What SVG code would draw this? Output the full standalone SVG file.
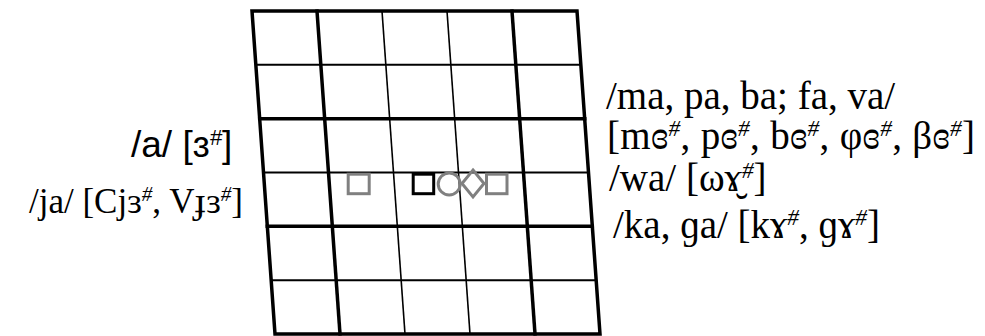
<svg xmlns="http://www.w3.org/2000/svg" width="985" height="336" viewBox="0 0 985 336">
<style>
.thick{stroke:#000;stroke-width:3.5;fill:none;stroke-linecap:square}
.thinh{stroke:#000;stroke-width:2;fill:none}
.thinv{stroke:#000;stroke-width:1.6;fill:none}
.mk{fill:none;stroke-width:3}
.gray{stroke:#808080}
.blk{stroke:#000}
.serif{font-family:"Liberation Serif","DejaVu Serif",serif;fill:#000}
.sans{font-family:"Liberation Sans","DejaVu Sans",sans-serif;fill:#000}
.sup{font-size:60%;font-style:italic}
</style>
<rect width="985" height="336" fill="#fff"/>
<g id="grid">
  <line class="thinv" x1="382" y1="11" x2="405" y2="334"/>
  <line class="thinv" x1="447" y1="11" x2="470" y2="334"/>
  <line class="thinh" x1="255.8" y1="64.8" x2="580.8" y2="64.8"/>
  <line class="thinh" x1="263.5" y1="172.5" x2="588.5" y2="172.5"/>
  <line class="thinh" x1="271.2" y1="280.2" x2="596.2" y2="280.2"/>
  <line class="thick" x1="317" y1="11" x2="340" y2="334"/>
  <line class="thick" x1="512" y1="11" x2="535" y2="334"/>
  <line class="thick" x1="259.7" y1="118.7" x2="584.7" y2="118.7"/>
  <line class="thick" x1="267.3" y1="226.3" x2="592.3" y2="226.3"/>
  <polygon class="thick" points="252,11 577,11 600,334 275,334" style="stroke-linejoin:miter"/>
</g>
<g id="markers">
  <rect id="sq-gray-left" class="mk gray" x="348.2" y="174.2" width="21" height="19.5"/>
  <rect id="sq-black" class="mk blk" x="413.2" y="174.2" width="20.5" height="19.5"/>
  <circle id="circle" class="mk gray" cx="449.2" cy="184" r="11"/>
  <polygon id="diamond" class="mk gray" points="473,170 484,183.5 473,197 462,183.5"/>
  <rect id="sq-gray-right" class="mk gray" x="486.5" y="174.2" width="20.5" height="19.5"/>
</g>
<g id="connectors"/>
<g id="labels-left">
  <text id="lbl-a" class="sans" x="131" y="157" font-size="37">/a/ [ɜ<tspan class="sup" baseline-shift="super">#</tspan>]</text>
  <text id="lbl-ja" class="serif" x="243" y="213" font-size="35" text-anchor="end">/ja/ [Cjɜ<tspan class="sup" baseline-shift="super">#</tspan>, Vɟɜ<tspan class="sup" baseline-shift="super">#</tspan>]</text>
</g>
<g id="labels-right">
  <text id="lbl-ma" class="serif" x="606" y="109" font-size="39">/ma, pa, ba; fa, va/</text>
  <text id="lbl-mo" class="serif" x="607" y="149" font-size="39" textLength="368" lengthAdjust="spacing">[mɞ<tspan class="sup" baseline-shift="super">#</tspan>, pɞ<tspan class="sup" baseline-shift="super">#</tspan>, bɞ<tspan class="sup" baseline-shift="super">#</tspan>, φɞ<tspan class="sup" baseline-shift="super">#</tspan>, βɞ<tspan class="sup" baseline-shift="super">#</tspan>]</text>
  <text id="lbl-wa" class="serif" x="609" y="191" font-size="39">/wa/ [ωɤ̮<tspan class="sup" baseline-shift="super">#</tspan>]</text>
  <text id="lbl-ka" class="serif" x="613" y="238" font-size="39">/ka, ɡa/ [kɤ<tspan class="sup" baseline-shift="super">#</tspan>, ɡɤ<tspan class="sup" baseline-shift="super">#</tspan>]</text>
</g>
</svg>
